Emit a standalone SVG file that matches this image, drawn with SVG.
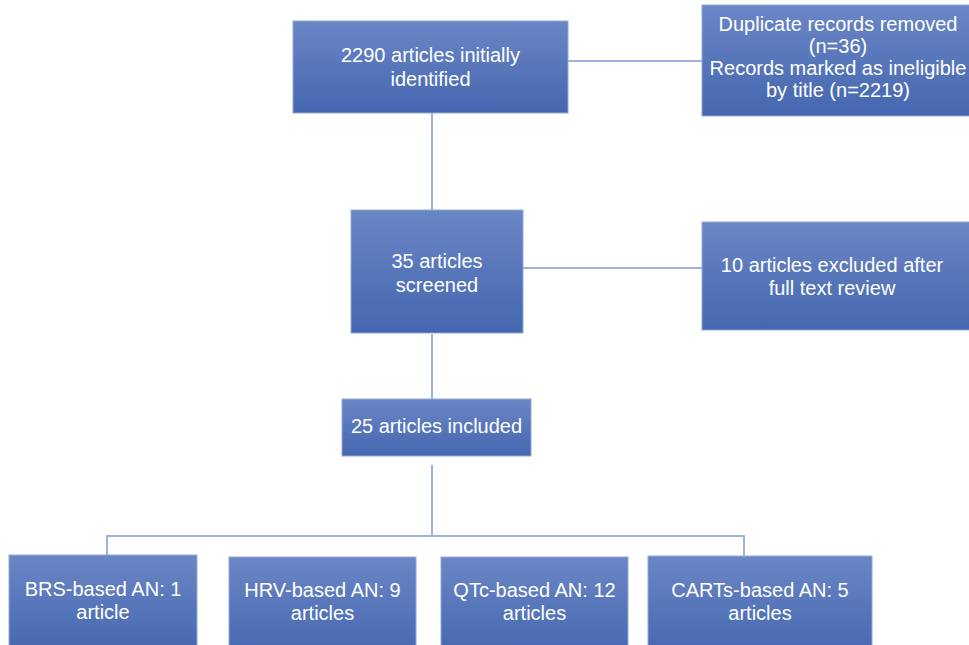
<svg xmlns="http://www.w3.org/2000/svg" width="969" height="645" viewBox="0 0 969 645">
<style>
.box{fill:url(#g);stroke:#93a8d8;stroke-width:1}
.t{font-family:"Liberation Sans",Arial,sans-serif;font-size:20px;fill:#ffffff;text-anchor:middle}
.c{fill:none;stroke:#9fb2dd;stroke-width:2}
</style>
<defs>
<linearGradient id="g" x1="0" y1="0" x2="0" y2="1">
<stop offset="0" stop-color="#6b86c5"/>
<stop offset="1" stop-color="#4467b0"/>
</linearGradient>
</defs>
<rect width="969" height="645" fill="#ffffff"/>
<g id="connectors">
<line class="c" x1="568" y1="61" x2="702" y2="61"/>
<line class="c" x1="432" y1="113" x2="432" y2="210"/>
<line class="c" x1="523" y1="268" x2="702" y2="268"/>
<line class="c" x1="432" y1="334" x2="432" y2="399"/>
<line class="c" x1="432" y1="465" x2="432" y2="536"/>
<polyline class="c" points="107,555 107,536 744,536 744,556"/>
</g>
<g id="n1">
<rect class="box" x="293" y="21" width="275" height="92"/>
<text class="t" x="430.5" y="62">2290 articles initially</text>
<text class="t" x="430.5" y="86">identified</text>
</g>
<g id="n2">
<rect class="box" x="702" y="5" width="275" height="111"/>
<text class="t" x="838" y="31">Duplicate records removed</text>
<text class="t" x="838" y="53">(n=36)</text>
<text class="t" x="838" y="75">Records marked as ineligible</text>
<text class="t" x="838" y="97">by title (n=2219)</text>
</g>
<g id="n3">
<rect class="box" x="351" y="210" width="172" height="123"/>
<text class="t" x="437" y="268">35 articles</text>
<text class="t" x="437" y="292">screened</text>
</g>
<g id="n4">
<rect class="box" x="702" y="222" width="275" height="108"/>
<text class="t" x="832" y="272">10 articles excluded after</text>
<text class="t" x="832" y="295">full text review</text>
</g>
<g id="n5">
<rect class="box" x="342" y="399" width="189" height="57"/>
<text class="t" x="436.5" y="433">25 articles included</text>
</g>
<g id="n6">
<rect class="box" x="9" y="555" width="188" height="100"/>
<text class="t" x="103" y="596">BRS-based AN: 1</text>
<text class="t" x="103" y="619">article</text>
</g>
<g id="n7">
<rect class="box" x="229" y="557" width="187" height="100"/>
<text class="t" x="322.5" y="597">HRV-based AN: 9</text>
<text class="t" x="322.5" y="620">articles</text>
</g>
<g id="n8">
<rect class="box" x="441" y="557" width="187" height="100"/>
<text class="t" x="534.5" y="597">QTc-based AN: 12</text>
<text class="t" x="534.5" y="620">articles</text>
</g>
<g id="n9">
<rect class="box" x="648" y="556" width="224" height="100"/>
<text class="t" x="760" y="597">CARTs-based AN: 5</text>
<text class="t" x="760" y="620">articles</text>
</g>
</svg>
